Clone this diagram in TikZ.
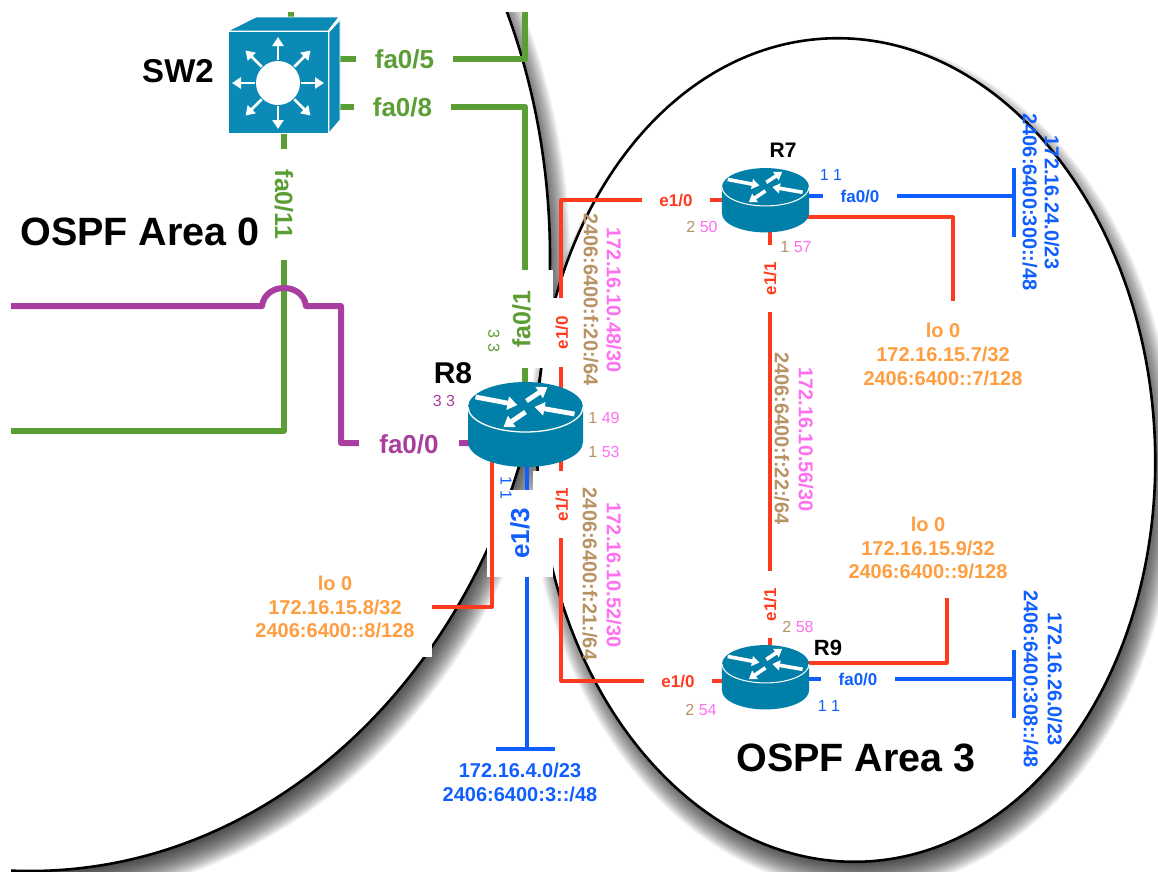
\documentclass[tikz,border=0pt]{standalone}
\usepackage{fontspec}
\setmainfont{Liberation Sans}
\usetikzlibrary{arrows.meta}
\definecolor{cgreen}{HTML}{5B9E36}
\definecolor{cpurple}{HTML}{A83FA0}
\definecolor{cred}{HTML}{FF3B1F}
\definecolor{cblue}{HTML}{0F5EFF}
\definecolor{cpink}{HTML}{FF6FF0}
\definecolor{cbrown}{HTML}{B79263}
\definecolor{corange}{HTML}{FF9E40}
\definecolor{crouter}{HTML}{007FA8}
\definecolor{cswitch}{HTML}{0A8AB5}
\tikzset{
  fs/.style={inner sep=0pt,font=\fontsize{#1}{#1}\selectfont\bfseries},
  num/.style={inner sep=0pt,font=\fontsize{16}{16}\selectfont},
  gap/.style n args={2}{fill=white,minimum width=#1,minimum height=#2},
  addr/.style={inner sep=0pt,align=center,font=\fontsize{20}{23.6}\selectfont\bfseries},
  glink/.style={draw=cgreen,line width=5.5pt,line join=round},
  plink/.style={draw=cpurple,line width=6pt,line join=round},
  rlink/.style={draw=cred,line width=3.2pt,line join=round},
  blink/.style={draw=cblue,line width=3.4pt,line join=round},
  area/.style={fill=white,draw=black,line width=2.6pt},
}
% ellipse with its soft shadow: centre x, centre y, rx, ry, tilt
\newcommand{\areashape}[5]{%
  \foreach \e in {15,14,...,-13}{
    \pgfmathsetmacro{\rxx}{#3+\e}\pgfmathsetmacro{\ryy}{#4+\e}
    \fill[black,fill opacity=.04] (#1+6,#2+14) ellipse [x radius=\rxx pt,y radius=\ryy pt,rotate=#5];
  }
  \draw[area] (#1,#2) ellipse [x radius=#3pt,y radius=#4pt,rotate=#5];
}
% router: name, centre x, centre y of the top disc, scale
\newcommand{\ciscorouter}[4]{%
  \pgfmathsetmacro{\lw}{4.8*#4}\pgfmathsetmacro{\al}{10*#4}\pgfmathsetmacro{\aw}{13*#4}\pgfmathsetmacro{\ow}{1.1*#4+.2}
  \pgfmathsetmacro{\ncy}{#3+17.5*#4}\pgfmathsetmacro{\nw}{115*#4}\pgfmathsetmacro{\nh}{85*#4}
  \node[inner sep=0pt,minimum width=\nw pt,minimum height=\nh pt] (#1) at (#2,\ncy) {};
  \begin{scope}[shift={(#2,#3)},scale=#4]
    \fill[crouter] (-57.5,0) -- (-57.5,35) .. controls (-57.5,48.8) and (-31.8,60) .. (0,60)
       .. controls (31.8,60) and (57.5,48.8) .. (57.5,35) -- (57.5,0)
       .. controls (57.5,-13.8) and (31.8,-25) .. (0,-25)
       .. controls (-31.8,-25) and (-57.5,-13.8) .. (-57.5,0) -- cycle;
    \draw[white,line width=\ow pt] (-57.5,0) .. controls (-57.5,13.8) and (-31.8,25) .. (0,25)
       .. controls (31.8,25) and (57.5,13.8) .. (57.5,0);
    \draw[white,line width=\lw pt,-{Triangle[length=\al pt,width=\aw pt]}] (-50,-10) -- (-8,-2);
    \draw[white,line width=\lw pt,-{Triangle[length=\al pt,width=\aw pt]}] (1,-6) -- (22,-20);
    \draw[white,line width=\lw pt,-{Triangle[length=\al pt,width=\aw pt]}] (49,7) -- (9,0);
    \draw[white,line width=\lw pt,-{Triangle[length=\al pt,width=\aw pt]}] (0,5) -- (-22,20);
  \end{scope}
}
\begin{document}
\begin{tikzpicture}[x=1pt,y=-1pt]
\useasboundingbox (0,0) rectangle (1158,871);
\begin{scope}
\clip (11,12) rectangle (1158,871);
\areashape{30}{257}{520}{614}{0}
\areashape{846}{450}{309}{412}{2.7}

% ports
\coordinate (sw2n) at (291,31);   \coordinate (topg) at (291,12);
\coordinate (sw2a) at (335,59);   \coordinate (topa) at (525,12);
\coordinate (sw2b) at (335,107);  \coordinate (r8g) at (525,400);
\coordinate (sw2s) at (284,133);  \coordinate (leftg) at (11,431);
\coordinate (leftp) at (11,306);  \coordinate (hopL) at (262,306); \coordinate (hopR) at (306,306);
\coordinate (pc) at (341,443);    \coordinate (r8w) at (475,443);
\coordinate (r8e1) at (561,400);  \coordinate (r8e2) at (561,460);
\coordinate (r7w) at (730,200);   \coordinate (r9w) at (730,681);
\coordinate (r7s) at (770,225);   \coordinate (r9n) at (770,650);
\coordinate (r7e) at (800,196);   \coordinate (t7) at (1014,196);
\coordinate (t7a) at (1014,168);  \coordinate (t7b) at (1014,237);
\coordinate (r9e) at (800,679);   \coordinate (t9) at (1014,679);
\coordinate (t9a) at (1014,650);  \coordinate (t9b) at (1014,718);
\coordinate (r7l) at (800,217);   \coordinate (lo7p) at (953,301);
\coordinate (r9l) at (800,663);   \coordinate (lo9p) at (947,598);
\coordinate (r8s) at (527,460);   \coordinate (t4) at (527,749);
\coordinate (t4a) at (496,749);   \coordinate (t4b) at (555,749);
\coordinate (r8l) at (492,460);

% connectors running behind their labels
\draw[glink] (sw2n) -- (topg);
\draw[glink] (sw2a) -| (topa);
\draw[glink] (sw2b) -| (r8g);
\draw[glink] (sw2s) |- (leftg);
\draw[plink] (leftp) -- (hopL) .. controls +(3,-24) and +(-3,-24) .. (hopR) -| (pc) -- (r8w);
\draw[rlink] (r7w) -| (r8e1);
\draw[rlink] (r9w) -| (r8e2);
\draw[rlink] (r7s) -- (r9n);
\draw[rlink] (r7l) -| (lo7p);
\draw[rlink] (r9l) -| (lo9p);
\draw[blink] (r7e) -- (t7);
\draw[blink] (t7a) -- (t7b);
\draw[blink] (r9e) -- (t9);
\draw[blink] (t9a) -- (t9b);
\draw[blink] (r8s) -- (t4);
\draw[blink] (t4a) -- (t4b);

% interface labels on white plates
\node[fs=26,cgreen,gap={97pt}{30pt}] (fa05) at (404.5,59.5) {fa0/5};
\node[fs=26,cgreen,gap={97pt}{30pt}] (fa08) at (402.5,107) {fa0/8};
\node[fs=25,cgreen,gap={111pt}{30pt},rotate=-90] (fa011) at (284,204.5) {fa0/11\hspace{5pt}};
\node[fs=26,cpurple,gap={100pt}{30pt}] (fa00p) at (409,444) {fa0/0};
\node[fs=17,cred,gap={69pt}{35pt},rotate=90] (e10r8) at (562,332.5) {e1/0\hspace{7pt}};
\node[fs=25,cgreen,gap={98pt}{63pt},rotate=90] (fa01) at (521.5,319) {fa0/1\hspace{10pt}};
\node[fs=17,cred,gap={67pt}{58pt},rotate=90] (e11r8) at (562,504.5) {e1/1\hspace{9pt}};
\node[fs=26,cblue,gap={87pt}{66pt},rotate=90] (e13) at (520,533.5) {e1/3\hspace{7pt}};
\node[addr,corange,gap={194pt}{100pt}] (lo8) at (335,607) {lo 0\\172.16.15.8/32\\2406:6400::8/128};
\node[fs=17,cred,gap={68pt}{24pt}] (e10r7) at (676,200.5) {e1/0};
\node[fs=17,cred,gap={68pt}{24pt}] (e10r9) at (678,681) {e1/0};
\node[fs=17,cblue,gap={74pt}{24pt}] (fa0r7) at (860,196.5) {fa0/0};
\node[fs=17,cblue,gap={74pt}{24pt}] (fa0r9) at (858,679.5) {fa0/0};
\node[fs=17,cred,gap={67pt}{24pt},rotate=90] (e11r7) at (770,278.5) {e1/1\hspace{9pt}};
\node[fs=17,cred,gap={67pt}{24pt},rotate=90] (e11r9) at (770,604.5) {e1/1\hspace{9pt}};

\draw[rlink] (r8l) |- (lo8.east);
\end{scope}

% SW2
\node[inner sep=0pt,minimum width=100pt,minimum height=102pt] (sw2) at (278,82) {};
\fill[cswitch,draw=white,line width=.8pt] (228,31) -- (256,17) -- (339,17) -- (328,31) -- cycle;
\fill[cswitch,draw=white,line width=.8pt] (329,32) -- (340,20) -- (340,120) -- (329,133) -- cycle;
\fill[cswitch,draw=white,line width=.8pt] (228,31) rectangle (328,133);
\foreach \a in {0,45,...,315}{
  \draw[white,line width=2.8pt,-{Triangle[length=9pt,width=11pt]}] (278,83) ++(\a:23pt) -- ++(\a:23pt);
}
\fill[white] (278,83) circle [radius=22pt];

% routers
\ciscorouter{rt8}{525.5}{407}{1}
\ciscorouter{rt7}{765.5}{187}{.757}
\ciscorouter{rt9}{765.5}{664}{.757}

% names
\node[fs=33] (nsw2) at (178,71) {SW2};
\node[fs=30] (nr8) at (453,373) {R8};
\node[fs=21] (nr7) at (783,150) {R7};
\node[fs=22] (nr9) at (828,648) {R9};
\node[fs=39.5] (a0) at (140,232) {OSPF Area 0};
\node[fs=39.5] (a3) at (856,758) {OSPF Area 3};

% addresses
\node[fs=20,cpink,rotate=-90] (p48) at (614,300) {172.16.10.48/30};
\node[fs=20,cbrown,rotate=-90] (b20) at (591,299.5) {2406:6400:f:20:/64};
\node[fs=20,cpink,rotate=-90] (p52) at (614,575) {172.16.10.52/30};
\node[fs=20,cbrown,rotate=-90] (b21) at (590,574) {2406:6400:f:21:/64};
\node[fs=20,cpink,rotate=-90] (p56) at (806,439.5) {172.16.10.56/30};
\node[fs=20,cbrown,rotate=-90] (b22) at (782,438.5) {2406:6400:f:22:/64};
\node[fs=20,cblue,rotate=-90] (n24) at (1052,202.5) {172.16.24.0/23};
\node[fs=20,cblue,rotate=-90] (v24) at (1030,202) {2406:6400:300::/48};
\node[fs=20,cblue,rotate=-90] (n26) at (1055,679) {172.16.26.0/23};
\node[fs=20,cblue,rotate=-90] (v26) at (1031,679) {2406:6400:308::/48};
\node[addr,cblue] (n4) at (520,782.5) {172.16.4.0/23\\2406:6400:3::/48};
\node[addr,corange] (lo7) at (943,354.5) {lo 0\\172.16.15.7/32\\2406:6400::7/128};
\node[addr,corange] (lo9) at (928,548) {lo 0\\172.16.15.9/32\\2406:6400::9/128};

% numbers
\node[num,cpurple] (m1) at (444,401) {3 3};
\node[num,cgreen,rotate=-90] (m2) at (494,341) {3 3};
\node[num,cblue,rotate=-90] (m3) at (506,488) {1 1};
\node[num] (m4) at (604,418) {\textcolor{cbrown}{1} \textcolor{cpink}{49}};
\node[num] (m5) at (604,452) {\textcolor{cbrown}{1} \textcolor{cpink}{53}};
\node[num] (m6) at (702,227) {\textcolor{cbrown}{2} \textcolor{cpink}{50}};
\node[num] (m7) at (796,247) {\textcolor{cbrown}{1} \textcolor{cpink}{57}};
\node[num,cblue] (m8) at (831,175) {1 1};
\node[num] (m9) at (798,627) {\textcolor{cbrown}{2} \textcolor{cpink}{58}};
\node[num] (m10) at (701,710) {\textcolor{cbrown}{2} \textcolor{cpink}{54}};
\node[num,cblue] (m11) at (829,706) {1 1};
\end{tikzpicture}
\end{document}
